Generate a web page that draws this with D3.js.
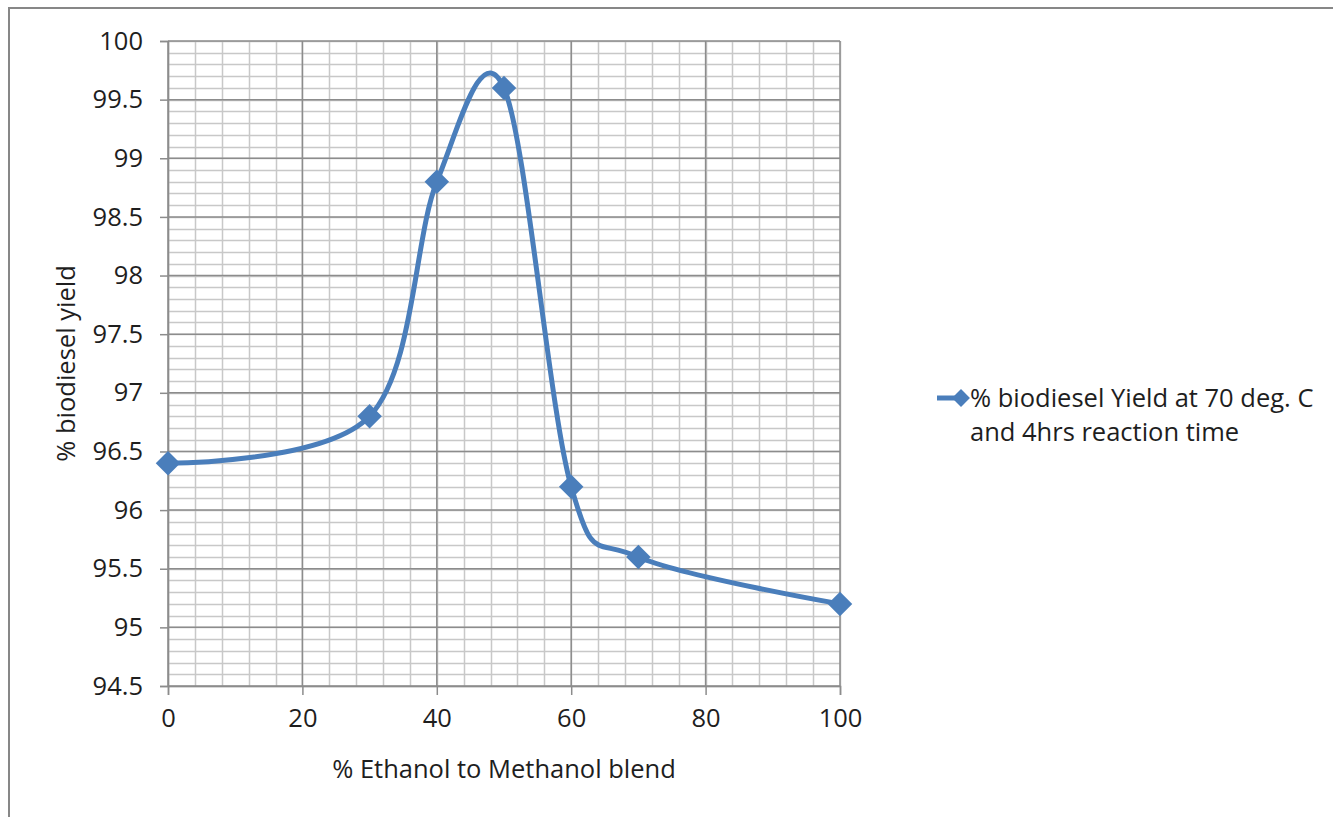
<!DOCTYPE html>
<html>
<head>
<meta charset="utf-8">
<script src="https://cdn.jsdelivr.net/npm/d3@7"></script>
<style>
  body { margin: 0; background: #fff; }
  text { font-family: "Open Sans", sans-serif; fill: #1e1e1e; }
</style>
</head>
<body>
<div id="chart"></div>
<script>
// data
var blend = [0, 30, 40, 50, 60, 70, 100];
var yieldPct = [96.4, 96.8, 98.8, 99.6, 96.2, 95.6, 95.2];
var xTicks = [0, 20, 40, 60, 80, 100];
var yTicks = [94.5, 95, 95.5, 96, 96.5, 97, 97.5, 98, 98.5, 99, 99.5, 100];
var seriesName = ["% biodiesel Yield at 70 deg. C", "and 4hrs reaction time"];

var svgWidth = 1333;
var svgHeight = 817;
var fontSize = "25.5px";

var margin = { top: 41, right: 493, bottom: 131, left: 168 };
var width = svgWidth - margin.left - margin.right;
var height = svgHeight - margin.top - margin.bottom;

var svg = d3.select("#chart")
  .append("svg")
  .attr("width", svgWidth)
  .attr("height", svgHeight);

// outer chart border (only top and left show in the picture)
svg.append("path")
  .attr("d", "M9,817 V8 H1333")
  .attr("fill", "none")
  .attr("stroke", "#878787")
  .attr("stroke-width", 2);

var chartGroup = svg.append("g")
  .attr("transform", `translate(${margin.left}, ${margin.top})`);

var xScale = d3.scaleLinear().domain([0, 100]).range([0, width]);
var yScale = d3.scaleLinear().domain([94.5, 100]).range([height, 0]);

// minor grid
var minorX = d3.range(0, 101, 4);
var minorY = d3.range(945, 1001, 1).map(d => d / 10);
chartGroup.append("g").selectAll("line")
  .data(minorX).enter().append("line")
  .attr("x1", d => Math.round(xScale(d)) + 0.5).attr("x2", d => Math.round(xScale(d)) + 0.5)
  .attr("y1", 0).attr("y2", height)
  .attr("stroke", "#c8c8c8").attr("stroke-width", 1.5);
chartGroup.append("g").selectAll("line")
  .data(minorY).enter().append("line")
  .attr("y1", d => Math.round(yScale(d)) + 0.5).attr("y2", d => Math.round(yScale(d)) + 0.5)
  .attr("x1", 0).attr("x2", width)
  .attr("stroke", "#c8c8c8").attr("stroke-width", 1.5);

// major grid
chartGroup.append("g").selectAll("line")
  .data(xTicks).enter().append("line")
  .attr("x1", d => xScale(d)).attr("x2", d => xScale(d))
  .attr("y1", 0).attr("y2", height)
  .attr("stroke", "#8c8c8c").attr("stroke-width", 1.5);
chartGroup.append("g").selectAll("line")
  .data(yTicks).enter().append("line")
  .attr("y1", d => yScale(d)).attr("y2", d => yScale(d))
  .attr("x1", 0).attr("x2", width)
  .attr("stroke", "#8c8c8c").attr("stroke-width", 1.5);

// axes
var bottomAxis = d3.axisBottom(xScale).tickValues(xTicks).tickSize(9).tickPadding(14);
var leftAxis = d3.axisLeft(yScale).tickValues(yTicks).tickSize(8).tickPadding(17)
  .tickFormat(d3.format(""));

var gx = chartGroup.append("g")
  .attr("transform", `translate(0, ${height})`)
  .call(bottomAxis);
var gy = chartGroup.append("g").call(leftAxis);

[gx, gy].forEach(function(g) {
  g.select(".domain").attr("stroke", "#8c8c8c").attr("stroke-width", 1.5);
  g.selectAll(".tick line").attr("stroke", "#8c8c8c").attr("stroke-width", 1.5);
  g.selectAll(".tick text").style("font-size", fontSize).attr("fill", "#1e1e1e")
    .style("font-family", "'Open Sans', sans-serif");
});

// the series
var pts = blend.map((b, i) => ({ x: b, y: yieldPct[i] }));
var line = d3.line()
  .x(d => xScale(d.x))
  .y(d => yScale(d.y))
  .curve(d3.curveCardinal.tension(0));

chartGroup.append("path")
  .datum(pts)
  .attr("d", line)
  .attr("fill", "none")
  .attr("stroke", "#4a7ebb")
  .attr("stroke-width", 5);

var diamond = d3.symbol().type(d3.symbolSquare).size(300);
chartGroup.selectAll(".mark")
  .data(pts).enter().append("path")
  .attr("class", "mark")
  .attr("d", diamond)
  .attr("transform", d => `translate(${xScale(d.x)}, ${yScale(d.y)}) rotate(45)`)
  .attr("fill", "#4a7ebb");

// axis labels
chartGroup.append("text")
  .attr("transform", "rotate(-90)")
  .attr("x", -height / 2)
  .attr("y", -margin.left + 75)
  .attr("text-anchor", "middle")
  .style("font-size", fontSize)
  .text("% biodiesel yield");

chartGroup.append("text")
  .attr("x", width / 2)
  .attr("y", height + 92)
  .attr("text-anchor", "middle")
  .style("font-size", fontSize)
  .text("% Ethanol to Methanol blend");

// legend
var legend = svg.append("g").attr("transform", "translate(937, 398)");
legend.append("line")
  .attr("x1", 0).attr("x2", 29)
  .attr("stroke", "#4a7ebb").attr("stroke-width", 5);
legend.append("path")
  .attr("d", d3.symbol().type(d3.symbolSquare).size(160))
  .attr("transform", "translate(24, 0) rotate(45)")
  .attr("fill", "#4a7ebb");
legend.selectAll("text")
  .data(seriesName).enter().append("text")
  .attr("x", 33)
  .attr("y", (d, i) => 9 + i * 34)
  .style("font-size", fontSize)
  .text(d => d);
</script>
</body>
</html>
